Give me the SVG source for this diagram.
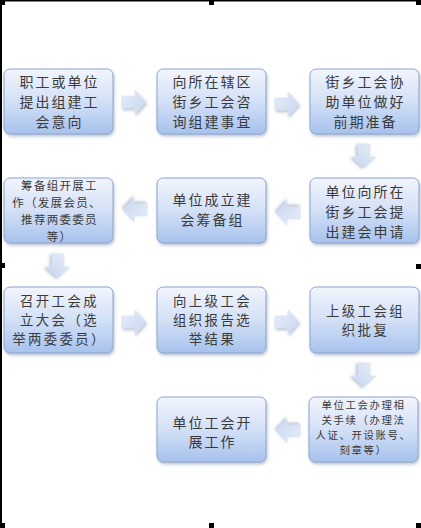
<svg xmlns="http://www.w3.org/2000/svg" width="421" height="528" viewBox="0 0 421 528">
<defs>
<linearGradient id="bg" x1="0" y1="0" x2="0" y2="1">
<stop offset="0" stop-color="#f2f5fc"/>
<stop offset="0.5" stop-color="#d3e0f6"/>
<stop offset="1" stop-color="#a7c2ee"/>
</linearGradient>
<linearGradient id="ag" x1="0" y1="0" x2="1" y2="1">
<stop offset="0" stop-color="#e8eef9"/>
<stop offset="1" stop-color="#c6d6f0"/>
</linearGradient>
<filter id="sh" x="-10%" y="-10%" width="125%" height="130%">
<feDropShadow dx="1" dy="2" stdDeviation="1.5" flood-color="#7a8aa8" flood-opacity="0.5"/>
</filter>
<path id="arr" d="M-12,-6 H1 V-12 L12,0 L1,12 V6 H-12 Z"/>
</defs>
<style>
.box{fill:url(#bg);stroke:#8fa5cc;stroke-width:1;filter:url(#sh)}
.arrow{fill:url(#ag);stroke:#d6e0f0;stroke-width:0.6;filter:url(#sh)}
text{font-family:"Noto Sans CJK SC","Noto Sans CJK JP",sans-serif;fill:#3a3a3a;text-anchor:middle}
.t{font-size:14px;letter-spacing:2px}
.m{font-size:13.4px;letter-spacing:2.4px}
.s{font-size:11.5px;letter-spacing:1.3px}
.x{font-size:10.4px;letter-spacing:1.6px}
.frame{fill:#000}
</style>
<rect width="421" height="528" fill="#ffffff"/>
<g id="frame">
<rect class="frame" x="0" y="0" width="421" height="1.5"/>
<rect class="frame" x="0" y="0" width="2" height="525"/>
<rect class="frame" x="0" y="0" width="5" height="5"/>
<rect class="frame" x="209" y="0" width="5" height="5"/>
<rect class="frame" x="416" y="0" width="5" height="5"/>
<rect class="frame" x="0" y="263" width="5" height="5"/>
<rect class="frame" x="416" y="264" width="5" height="5"/>
<rect class="frame" x="0" y="523" width="5" height="5"/>
<rect class="frame" x="209" y="523" width="5" height="5"/>
<rect class="frame" x="416" y="523" width="5" height="5"/>
</g>
<g id="connectors">
<use href="#arr" class="arrow" transform="translate(134,102)"/>
<use href="#arr" class="arrow" transform="translate(287,104)"/>
<use href="#arr" class="arrow" transform="translate(364,156) rotate(90)"/>
<use href="#arr" class="arrow" transform="translate(288,213) rotate(180)"/>
<use href="#arr" class="arrow" transform="translate(135,210) rotate(180)"/>
<use href="#arr" class="arrow" transform="translate(58,266) rotate(90)"/>
<use href="#arr" class="arrow" transform="translate(134,322)"/>
<use href="#arr" class="arrow" transform="translate(287,322)"/>
<use href="#arr" class="arrow" transform="translate(364,375) rotate(90)"/>
<use href="#arr" class="arrow" transform="translate(288,431) rotate(180)"/>
</g>
<g id="n1">
<rect class="box" x="4" y="69" width="109" height="65" rx="6"/>
<text class="t" x="59.5" y="87">职工或单位</text>
<text class="t" x="59.5" y="107">提出组建工</text>
<text class="t" x="59.5" y="127">会意向</text>
</g>
<g id="n2">
<rect class="box" x="157" y="69" width="109" height="65" rx="6"/>
<text class="t" x="212.5" y="87">向所在辖区</text>
<text class="t" x="212.5" y="107">街乡工会咨</text>
<text class="t" x="212.5" y="127">询组建事宜</text>
</g>
<g id="n3">
<rect class="box" x="310" y="69" width="109" height="65" rx="6"/>
<text class="t" x="365.5" y="87">街乡工会协</text>
<text class="t" x="365.5" y="107">助单位做好</text>
<text class="t" x="365.5" y="127">前期准备</text>
</g>
<g id="n4">
<rect class="box" x="310" y="178" width="109" height="65" rx="6"/>
<text class="t" x="365.5" y="197">单位向所在</text>
<text class="t" x="365.5" y="217">街乡工会提</text>
<text class="t" x="365.5" y="237">出建会申请</text>
</g>
<g id="n5">
<rect class="box" x="157" y="178" width="109" height="65" rx="6"/>
<text class="t" x="212.5" y="205">单位成立建</text>
<text class="t" x="212.5" y="225">会筹备组</text>
</g>
<g id="n6">
<rect class="box" x="4" y="178" width="109" height="65" rx="6"/>
<text class="s" x="59.5" y="190">筹备组开展工</text>
<text class="s" x="57" y="207">作（发展会员、</text>
<text class="s" x="59.5" y="224">推荐两委委员</text>
<text class="s" x="59.5" y="241">等）</text>
</g>
<g id="n7">
<rect class="box" x="4" y="287" width="109" height="66" rx="6"/>
<text class="m" x="59.5" y="306">召开工会成</text>
<text class="m" x="59.5" y="325">立大会（选</text>
<text class="m" x="59.5" y="344">举两委委员）</text>
</g>
<g id="n8">
<rect class="box" x="157" y="287" width="109" height="66" rx="6"/>
<text class="m" x="212.5" y="306">向上级工会</text>
<text class="m" x="212.5" y="325">组织报告选</text>
<text class="m" x="212.5" y="344">举结果</text>
</g>
<g id="n9">
<rect class="box" x="310" y="287" width="109" height="66" rx="6"/>
<text class="m" x="365.5" y="315.5">上级工会组</text>
<text class="m" x="365.5" y="334.5">织批复</text>
</g>
<g id="n10">
<rect class="box" x="309" y="397" width="109" height="65" rx="6"/>
<text class="x" x="363.5" y="409">单位工会办理相</text>
<text class="x" x="363.5" y="424">关手续（办理法</text>
<text class="x" x="363.5" y="439">人证、开设账号、</text>
<text class="x" x="363.5" y="454">刻章等）</text>
</g>
<g id="n11">
<rect class="box" x="157" y="397" width="109" height="65" rx="6"/>
<text class="t" x="212.5" y="428">单位工会开</text>
<text class="t" x="212.5" y="447">展工作</text>
</g>
</svg>
